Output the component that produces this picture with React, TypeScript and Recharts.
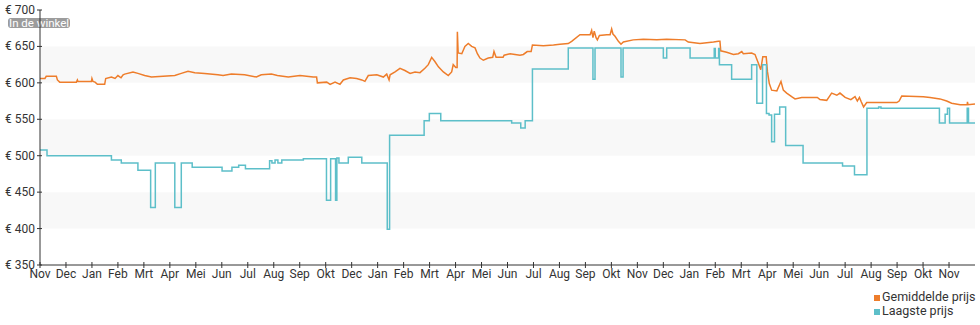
import React from "react";
import { LineChart, Line, XAxis, YAxis, ReferenceArea } from "recharts";

// x = months since first tick (Nov), y = price in euro
const gemiddeldePrijs: [number, number][] = [
  [0, 606], [0.19, 606], [0.24, 609], [0.63, 609], [0.67, 604], [0.76, 601], [1.4, 601], [1.44, 604],
  [1.46, 602], [1.98, 602], [2.0, 606], [2.04, 602], [2.12, 601], [2.21, 598], [2.49, 598], [2.53, 606],
  [2.75, 608], [2.89, 606], [3.0, 610], [3.12, 607], [3.2, 611], [3.26, 612], [3.58, 615], [3.77, 613],
  [4.03, 610], [4.29, 608], [4.74, 609], [5.19, 610], [5.44, 613], [5.7, 616], [5.96, 614], [6.34, 613],
  [6.85, 611], [7.05, 610], [7.37, 612], [7.88, 611], [8.33, 608], [8.52, 611], [8.91, 612], [9.14, 610],
  [9.56, 608], [10.01, 610], [10.52, 608], [10.65, 608], [10.68, 600], [11.04, 601], [11.17, 598],
  [11.36, 601], [11.55, 598], [11.68, 604], [11.94, 607], [12.19, 606], [12.39, 604], [12.51, 602],
  [12.64, 610], [12.97, 611], [13.22, 608], [13.35, 612], [13.44, 604], [13.48, 611], [13.67, 615],
  [13.86, 620], [14.05, 617], [14.25, 613], [14.44, 615], [14.63, 614], [14.82, 620], [14.95, 625],
  [15.08, 635], [15.21, 629], [15.34, 622], [15.53, 615], [15.72, 610], [15.85, 615], [15.91, 625],
  [16.01, 621], [16.06, 621], [16.07, 670], [16.1, 641], [16.24, 640], [16.36, 650], [16.49, 654],
  [16.62, 650], [16.75, 648], [16.84, 640], [16.94, 634], [17.07, 631], [17.26, 634], [17.43, 635],
  [17.48, 643], [17.56, 635], [17.83, 635], [17.87, 638], [18.1, 640], [18.29, 639], [18.48, 638],
  [18.61, 639], [18.76, 643], [18.91, 643], [18.96, 652], [19.38, 651], [19.77, 652], [20.02, 653],
  [20.34, 654], [20.47, 657], [20.79, 666], [21.05, 666], [21.18, 666], [21.24, 672], [21.29, 662],
  [21.34, 671], [21.41, 662], [21.46, 659], [21.54, 665], [21.82, 666], [21.95, 666], [22.01, 674],
  [22.06, 667], [22.14, 664], [22.27, 657], [22.37, 653], [22.46, 656], [22.84, 659], [23.23, 660],
  [23.75, 659], [24.13, 660], [24.84, 659], [24.96, 656], [25.41, 654], [25.93, 656], [26.12, 657],
  [26.18, 657], [26.21, 644], [26.44, 642], [26.7, 639], [26.89, 640], [27.02, 643], [27.08, 640],
  [27.4, 641], [27.53, 639], [27.66, 627], [27.75, 618], [27.83, 636], [27.96, 636], [28.01, 615],
  [28.08, 599], [28.17, 590], [28.37, 589], [28.53, 602], [28.62, 590], [28.75, 586], [28.94, 581],
  [29.07, 578], [29.33, 580], [29.59, 580], [29.78, 580], [29.93, 580], [30.03, 577], [30.29, 576],
  [30.48, 586], [30.68, 583], [30.8, 586], [31.0, 580], [31.22, 577], [31.38, 581], [31.47, 575],
  [31.55, 580], [31.62, 574], [31.71, 567], [31.83, 573], [32.34, 573], [32.99, 573], [33.08, 575],
  [33.18, 582], [34.01, 581], [34.27, 580], [34.65, 578], [34.91, 575], [35.1, 572], [35.43, 570],
  [35.7, 570], [35.71, 574], [35.73, 570], [36, 571],
];

// step series: value holds until the next point
const laagstePrijs: [number, number][] = [
  [0, 508], [0.27, 500], [2.75, 494], [3.13, 490], [3.77, 480], [4.26, 429], [4.44, 490], [5.19, 429],
  [5.44, 490], [5.86, 484], [7.01, 479], [7.39, 484], [7.65, 487], [7.91, 482], [8.84, 493], [8.93, 490],
  [9.05, 494], [9.16, 490], [9.31, 494], [10.14, 496], [11.03, 439], [11.19, 496], [11.38, 439],
  [11.43, 497], [11.51, 490], [11.87, 498], [12.39, 490], [13.37, 399], [13.46, 528], [14.79, 548],
  [14.99, 558], [15.43, 548], [18.16, 545], [18.51, 538], [18.68, 548], [18.96, 619], [20.34, 648],
  [21.29, 605], [21.37, 648], [22.37, 608], [22.45, 648], [24.0, 634], [24.13, 648], [25.03, 634],
  [25.96, 647], [26.0, 634], [26.13, 647], [26.16, 625], [26.63, 605], [27.4, 625], [27.6, 572],
  [27.82, 625], [27.97, 558], [28.07, 556], [28.17, 519], [28.28, 557], [28.48, 567], [28.71, 514],
  [29.38, 490], [30.9, 486], [31.36, 474], [31.84, 565], [32.29, 567], [32.38, 565], [34.63, 545],
  [34.85, 557], [34.94, 565], [35.02, 545], [35.7, 565], [35.75, 545], [36, 545],
];

const monthLabels = [
  "Nov", "Dec", "Jan", "Feb", "Mrt", "Apr", "Mei", "Jun", "Jul", "Aug", "Sep", "Okt",
  "Dec", "Jan", "Feb", "Mrt", "Apr", "Mei", "Jun", "Jul", "Aug", "Sep", "Okt", "Nov",
  "Dec", "Jan", "Feb", "Mrt", "Apr", "Mei", "Jun", "Jul", "Aug", "Sep", "Okt", "Nov",
];
const monthTicks = monthLabels.map((_, i) => i);
const priceTicks = [350, 400, 450, 500, 550, 600, 650, 700];
const shadedBands: [number, number][] = [[600, 650], [500, 550], [400, 450]];

const ORANGE = "#ee7d2b";
const TEAL = "#5dbfc9";
const TEXT = "#333";

const avgData = gemiddeldePrijs.map(([x, y]) => ({ x, y }));
const lowData = laagstePrijs.map(([x, y]) => ({ x, y }));

function XTick({ x, y, payload }: any) {
  return (
    <g>
      <line x1={x} x2={x} y1={y - 3} y2={y + 3} stroke={TEXT} />
      <text x={x} y={y + 13} textAnchor="middle" fill={TEXT} fontSize={12} fontFamily="Roboto">
        {monthLabels[Math.round(payload.value)]}
      </text>
    </g>
  );
}

function YTick({ x, y, payload }: any) {
  return (
    <g>
      <line x1={x - 3} x2={x + 2} y1={y} y2={y} stroke={TEXT} />
      <text x={x - 5} y={y + 4} textAnchor="end" fill={TEXT} fontSize={12} fontFamily="Roboto">
        {`€ ${payload.value}`}
      </text>
    </g>
  );
}

export default function App() {
  return (
    <div style={{ position: "absolute", left: 0, top: 0, width: 980, height: 325, fontFamily: "Roboto, sans-serif" }}>
      <div
        style={{
          position: "absolute",
          left: 8,
          top: 18,
          height: 10,
          lineHeight: "10px",
          padding: "0 1px",
          background: "#9c9c9c",
          color: "#fff",
          fontSize: 11.5,
          borderRadius: 3,
        }}
      >
        In de winkel
      </div>
      <div style={{ position: "absolute", left: 0, top: 0 }}>
        <LineChart width={980} height={325} margin={{ top: 10, right: 5, bottom: 40, left: 0 }}>
          {shadedBands.map(([lo, hi]) => (
            <ReferenceArea key={lo} y1={lo} y2={hi} fill="#f8f8f8" fillOpacity={1} stroke="none" />
          ))}
          <XAxis
            type="number"
            dataKey="x"
            domain={[0, 36]}
            ticks={monthTicks}
            interval={0}
            height={20}
            tickSize={0}
            tickMargin={0}
            tickLine={false}
            axisLine={{ stroke: TEXT }}
            tick={<XTick />}
            allowDataOverflow
          />
          <YAxis
            type="number"
            domain={[350, 700]}
            ticks={priceTicks}
            interval={0}
            width={40}
            tickSize={0}
            tickMargin={0}
            tickLine={false}
            axisLine={{ stroke: TEXT }}
            tick={<YTick />}
            allowDataOverflow
          />
          <Line
            data={avgData}
            dataKey="y"
            type="linear"
            stroke={ORANGE}
            strokeWidth={1.5}
            dot={false}
            activeDot={false}
            isAnimationActive={false}
          />
          <Line
            data={lowData}
            dataKey="y"
            type="stepAfter"
            stroke={TEAL}
            strokeWidth={1.5}
            dot={false}
            activeDot={false}
            isAnimationActive={false}
          />
        </LineChart>
      </div>
      <div style={{ position: "absolute", left: 874, top: 290, fontSize: 12.5, color: TEXT, lineHeight: "14px" }}>
        <div>
          <span style={{ display: "inline-block", width: 6, height: 6, background: ORANGE, marginRight: 2 }} />
          Gemiddelde prijs
        </div>
        <div>
          <span style={{ display: "inline-block", width: 6, height: 6, background: TEAL, marginRight: 2 }} />
          Laagste prijs
        </div>
      </div>
    </div>
  );
}
